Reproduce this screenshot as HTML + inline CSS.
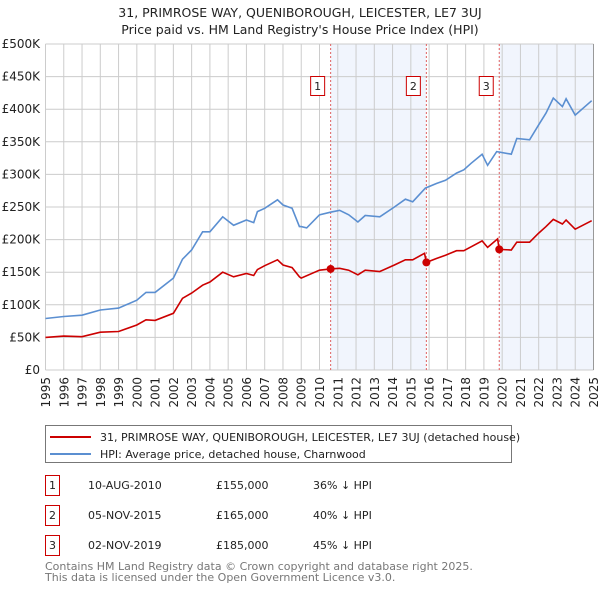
<!DOCTYPE html>
<html><head><meta charset="utf-8"><style>
body{margin:0;background:#fff;font-family:"DejaVu Sans","Liberation Sans",sans-serif;}
svg text{font-family:"DejaVu Sans","Liberation Sans",sans-serif;}
</style></head><body>
<svg id="chart" width="600" height="590" viewBox="0 0 600 590" xmlns="http://www.w3.org/2000/svg">
<text x="300" y="17" text-anchor="middle" font-size="12.5" fill="#222">31, PRIMROSE WAY, QUENIBOROUGH, LEICESTER, LE7 3UJ</text>
<text x="300" y="34" text-anchor="middle" font-size="12.5" fill="#222">Price paid vs. HM Land Registry's House Price Index (HPI)</text>
<g id="plot"></g>
<g>
<rect x="45.5" y="425.5" width="466" height="37" fill="#fff" stroke="#777"/>
<line x1="50" y1="437" x2="91" y2="437" stroke="#cc0000" stroke-width="2"/>
<text x="100" y="441" font-size="11" fill="#222">31, PRIMROSE WAY, QUENIBOROUGH, LEICESTER, LE7 3UJ (detached house)</text>
<line x1="50" y1="454" x2="91" y2="454" stroke="#5b8fd1" stroke-width="2"/>
<text x="100" y="458" font-size="11" fill="#222">HPI: Average price, detached house, Charnwood</text>
</g>
<g font-size="11" fill="#222">
<rect x="45.5" y="475.5" width="14" height="20" fill="#fff" stroke="#cc0000"/><text x="52.5" y="489" text-anchor="middle">1</text>
<text x="88" y="489">10-AUG-2010</text><text x="216" y="489">£155,000</text><text x="313" y="489">36% ↓ HPI</text>
<rect x="45.5" y="505.5" width="14" height="20" fill="#fff" stroke="#cc0000"/><text x="52.5" y="519" text-anchor="middle">2</text>
<text x="88" y="519">05-NOV-2015</text><text x="216" y="519">£165,000</text><text x="313" y="519">40% ↓ HPI</text>
<rect x="45.5" y="535.5" width="14" height="20" fill="#fff" stroke="#cc0000"/><text x="52.5" y="549" text-anchor="middle">3</text>
<text x="88" y="549">02-NOV-2019</text><text x="216" y="549">£185,000</text><text x="313" y="549">45% ↓ HPI</text>
</g>
<text x="45" y="570" font-size="11" fill="#777">Contains HM Land Registry data © Crown copyright and database right 2025.</text>
<text x="45" y="581" font-size="11" fill="#777">This data is licensed under the Open Government Licence v3.0.</text>
</svg>
<script>
const hpiDates=[1995,1996,1997,1998,1999,2000,2000.5,2001,2002,2002.5,2003,2003.6,2004,2004.7,2005.3,2006,2006.4,2006.6,2007,2007.7,2008,2008.5,2008.9,2009.0,2009.3,2010,2010.6,2011.1,2011.6,2012.1,2012.5,2013.3,2014.1,2014.7,2015.1,2015.8,2016.4,2016.9,2017.5,2017.9,2018.3,2018.9,2019.2,2019.7,2020.5,2020.8,2021.5,2022.0,2022.4,2022.8,2023.3,2023.5,2024.0,2024.9];
const hpiValues=[79,82,84,92,95,107,119,119,141,170,184,212,212,235,222,230,226,243,248,261,253,248,220,220,218,238,242,245,238,227,237,235,250,262,258,279,286,291,302,307,317,331,314,335,331,355,353,376,394,417,404,416,391,413];
const priceDates=[1995,1996,1997,1998,1999,2000,2000.5,2001,2002,2002.5,2003,2003.6,2004,2004.7,2005.3,2006,2006.4,2006.6,2007,2007.7,2008,2008.5,2008.9,2009.0,2010,2010.6,2011.1,2011.6,2012.1,2012.5,2013.3,2014.1,2014.7,2015.1,2015.75,2015.85,2016.4,2016.9,2017.5,2017.9,2018.3,2018.9,2019.2,2019.75,2019.84,2020.5,2020.8,2021.5,2022.0,2022.4,2022.8,2023.3,2023.5,2024.0,2024.9];
const priceValues=[50,52,51,58,59,69,77,76,87,110,118,130,135,150,143,148,145,154,160,169,161,157,143,141,153,155,156,153,146,153,151,161,169,169,179,165,171,176,183,183,189,198,188,201,185,184,196,196,210,220,231,224,230,216,229];
const saleLabels=["1","2","3"];
const saleDates=[2010.61,2015.85,2019.84];
const salePrices=[155,165,185];
const yTicks=[0,50,100,150,200,250,300,350,400,450,500];
const yTickLabels=["£0","£50K","£100K","£150K","£200K","£250K","£300K","£350K","£400K","£450K","£500K"];
const xYears=[1995,1996,1997,1998,1999,2000,2001,2002,2003,2004,2005,2006,2007,2008,2009,2010,2011,2012,2013,2014,2015,2016,2017,2018,2019,2020,2021,2022,2023,2024,2025];

const X0=45.5,X1=593.5,Y0=370,Y1=44;
const xs=t=>X0+(t-1995)/30*(X1-X0);
const ys=v=>Y0-v/500*(Y0-Y1);
const NS="http://www.w3.org/2000/svg";
const g=document.getElementById('plot');
function mk(tag,attrs){const e=document.createElementNS(NS,tag);for(const k in attrs)e.setAttribute(k,attrs[k]);g.appendChild(e);return e;}

// shaded regions
let s1=mk('rect',{x:xs(saleDates[0]),y:Y1,width:xs(saleDates[1])-xs(saleDates[0]),height:Y0-Y1,fill:'#eef3fd',opacity:0.8});


let s2=mk('rect',{x:xs(saleDates[2]),y:Y1,width:X1-xs(saleDates[2]),height:Y0-Y1,fill:'#eef3fd',opacity:0.8});



// grid
yTicks.forEach((v,i)=>{
  let l=mk('line',{x1:X0,x2:X1,y1:ys(v),y2:ys(v),stroke:'#cccccc','stroke-width':1});
  
  
  let t=mk('text',{x:40,y:ys(v)+4,'text-anchor':'end','font-size':12,fill:'#222'});
  t.textContent=yTickLabels[i];
  
  
});
xYears.forEach(yr=>{
  let l=mk('line',{x1:xs(yr),x2:xs(yr),y1:Y1,y2:Y0,stroke:'#cccccc','stroke-width':1});
  
  
  let t=mk('text',{x:0,y:0,'text-anchor':'end','font-size':12,fill:'#222',transform:`translate(${xs(yr)+4.5},377) rotate(-90)`});
  t.textContent=yr;
  
  
});

// sale markers lines
saleDates.forEach((d,i)=>{
  let l=mk('line',{x1:xs(d),x2:xs(d),y1:Y1,y2:Y0,stroke:'#e06060','stroke-width':1,'stroke-dasharray':'2,2'});
  
  
  let r=mk('rect',{x:xs(d)-20,y:76.5,width:14,height:19,fill:'#fff',stroke:'#cc0000'});
  
  
  let t=mk('text',{x:xs(d)-13,y:90,'text-anchor':'middle','font-size':11,fill:'#222'});
  t.textContent=saleLabels[i];
  
  
});

function path(dates,vals){return dates.map((d,i)=>(i?'L':'M')+xs(d).toFixed(1)+','+ys(vals[i]).toFixed(1)).join('');}
let hp=mk('path',{d:path(hpiDates,hpiValues),fill:'none',stroke:'#5b8fd1','stroke-width':1.6});


let pp=mk('path',{d:path(priceDates,priceValues),fill:'none',stroke:'#cc0000','stroke-width':1.6});


saleDates.forEach((d,i)=>{
  let c=mk('circle',{cx:xs(d),cy:ys(salePrices[i]),r:4,fill:'#cc0000'});
  
  
});
let ax=mk('line',{x1:X1,x2:X1,y1:Y1,y2:Y0,stroke:'#999','stroke-width':1});


</script>
</body></html>
